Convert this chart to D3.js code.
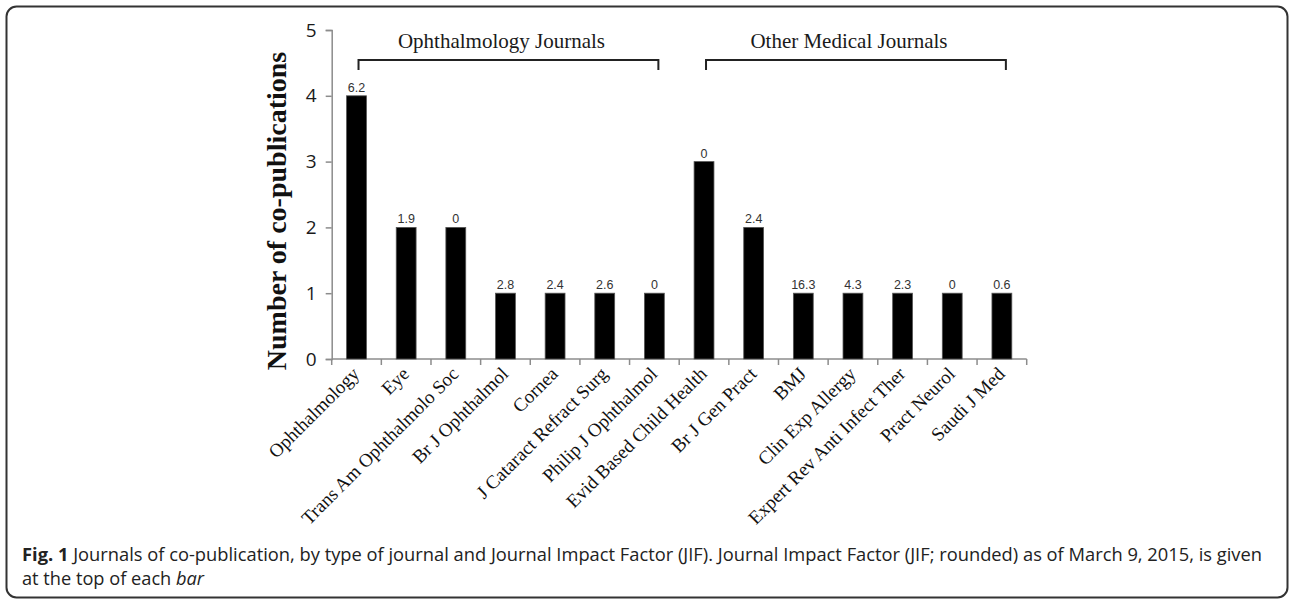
<!DOCTYPE html>
<html>
<head>
<meta charset="utf-8">
<script src="https://cdn.jsdelivr.net/npm/d3@7"></script>
<style>
html,body{margin:0;padding:0;background:#fff;}
svg{display:block;}
</style>
</head>
<body>
<svg id="chart" width="1290" height="600"></svg>
<script>
// ---- data ----
const categories = ["Ophthalmology","Eye","Trans Am Ophthalmolo Soc","Br J Ophthalmol","Cornea","J Cataract Refract Surg","Philip J Ophthalmol","Evid Based Child Health","Br J Gen Pract","BMJ","Clin Exp Allergy","Expert Rev Anti Infect Ther","Pract Neurol","Saudi J Med"];
const coPublications = [4,2,2,1,1,1,1,3,2,1,1,1,1,1];
const impactFactors = ["6.2","1.9","0","2.8","2.4","2.6","0","0","2.4","16.3","4.3","2.3","0","0.6"];
const yTicks = [0,1,2,3,4,5];
const groupNames = ["Ophthalmology Journals","Other Medical Journals"];
const groupFirst = ["Ophthalmology","Evid Based Child Health"];
const groupLast = ["Philip J Ophthalmol","Saudi J Med"];
const captionBold = "Fig. 1";
const captionLine1 = " Journals of co-publication, by type of journal and Journal Impact Factor (JIF). Journal Impact Factor (JIF; rounded) as of March 9, 2015, is given";
const captionLine2a = "at the top of each ";
const captionLine2b = "bar";
const yTitle = "Number of co-publications";

const svg = d3.select("#chart");

// frame
svg.append("rect").attr("x",6.5).attr("y",6.5).attr("width",1281).attr("height",591)
  .attr("rx",10).attr("fill","none").attr("stroke","#333").attr("stroke-width",2);

const x = d3.scaleBand().domain(categories).range([331.7,1026.7]).paddingInner(0.6).paddingOuter(0.3);
const y = d3.scaleLinear().domain([0,5]).range([359,30]);
const step = x.step();
const x0 = x.range()[0];

// axes
const axisColor = "#8c8c8c";
const g = svg.append("g");
// y axis
const yAxis = g.append("g").attr("transform",`translate(${x0},0)`)
  .call(d3.axisLeft(y).tickValues(yTicks).tickSize(6).tickPadding(9).tickFormat(d3.format("d")));
yAxis.select(".domain").attr("stroke",axisColor).attr("stroke-width",1.5);
yAxis.selectAll(".tick line").attr("stroke",axisColor).attr("stroke-width",1.5);
yAxis.selectAll(".tick text").attr("font-family","'Open Sans', sans-serif").attr("font-size",19).attr("fill","#1a1a1a");

// x axis baseline with ticks at band boundaries
const boundaries = d3.range(categories.length+1).map(i=>x0+i*step);
g.append("line").attr("x1",x0).attr("x2",x0+categories.length*step)
  .attr("y1",y(0)).attr("y2",y(0)).attr("stroke",axisColor).attr("stroke-width",1.5);
g.selectAll(".xt").data(boundaries).join("line")
  .attr("x1",d=>d).attr("x2",d=>d).attr("y1",y(0)).attr("y2",y(0)+6)
  .attr("stroke",axisColor).attr("stroke-width",1.5);

// bars
g.selectAll(".bar").data(categories).join("rect")
  .attr("x",d=>x(d)).attr("width",x.bandwidth())
  .attr("y",(d,i)=>y(coPublications[i])).attr("height",(d,i)=>y(0)-y(coPublications[i]))
  .attr("fill","#000").attr("stroke","#555").attr("stroke-width",0.8);

// JIF labels
g.selectAll(".jif").data(categories).join("text")
  .attr("x",d=>x(d)+x.bandwidth()/2).attr("y",(d,i)=>y(coPublications[i])-4)
  .attr("text-anchor","middle").attr("font-family","'Liberation Sans', Arial, sans-serif")
  .attr("font-size",12.5).attr("fill","#333").text((d,i)=>impactFactors[i]);

// category labels
g.selectAll(".cat").data(categories).join("text")
  .attr("transform",d=>`translate(${x(d)+x.bandwidth()/2+4},${y(0)+16}) rotate(-45)`)
  .attr("text-anchor","end").attr("font-family","'Liberation Serif', 'Times New Roman', serif")
  .attr("font-size",19).attr("fill","#111").text(d=>d);

// y title
svg.append("text").attr("transform",`translate(286,211) rotate(-90)`)
  .attr("text-anchor","middle").attr("font-family","'Liberation Serif', 'Times New Roman', serif")
  .attr("font-weight","bold").attr("font-size",28).attr("fill","#111").text(yTitle);

// group brackets
groupNames.forEach((name,i)=>{
  const xa = x(groupFirst[i])+x.bandwidth()/2+2;
  const xb = x(groupLast[i])+x.bandwidth()/2+4;
  svg.append("path").attr("d",`M${xa},70V60H${xb}V70`).attr("fill","none")
    .attr("stroke","#222").attr("stroke-width",2);
  svg.append("text").attr("x",(xa+xb)/2-7).attr("y",48).attr("text-anchor","middle")
    .attr("font-family","'Liberation Serif', 'Times New Roman', serif").attr("font-size",21)
    .attr("fill","#1a1a1a").text(name);
});

// caption
const cap1 = svg.append("text").attr("x",22).attr("y",561)
  .attr("font-family","'Open Sans', sans-serif").attr("font-size",18).attr("fill","#222")
  .attr("textLength",1240).attr("lengthAdjust","spacingAndGlyphs");
cap1.append("tspan").attr("font-weight","bold").text(captionBold);
cap1.append("tspan").text(captionLine1);
const cap2 = svg.append("text").attr("x",22).attr("y",585)
  .attr("font-family","'Open Sans', sans-serif").attr("font-size",18).attr("fill","#222")
  .attr("textLength",182).attr("lengthAdjust","spacingAndGlyphs");
cap2.append("tspan").text(captionLine2a);
cap2.append("tspan").attr("font-style","italic").text(captionLine2b);
</script>
</body>
</html>
